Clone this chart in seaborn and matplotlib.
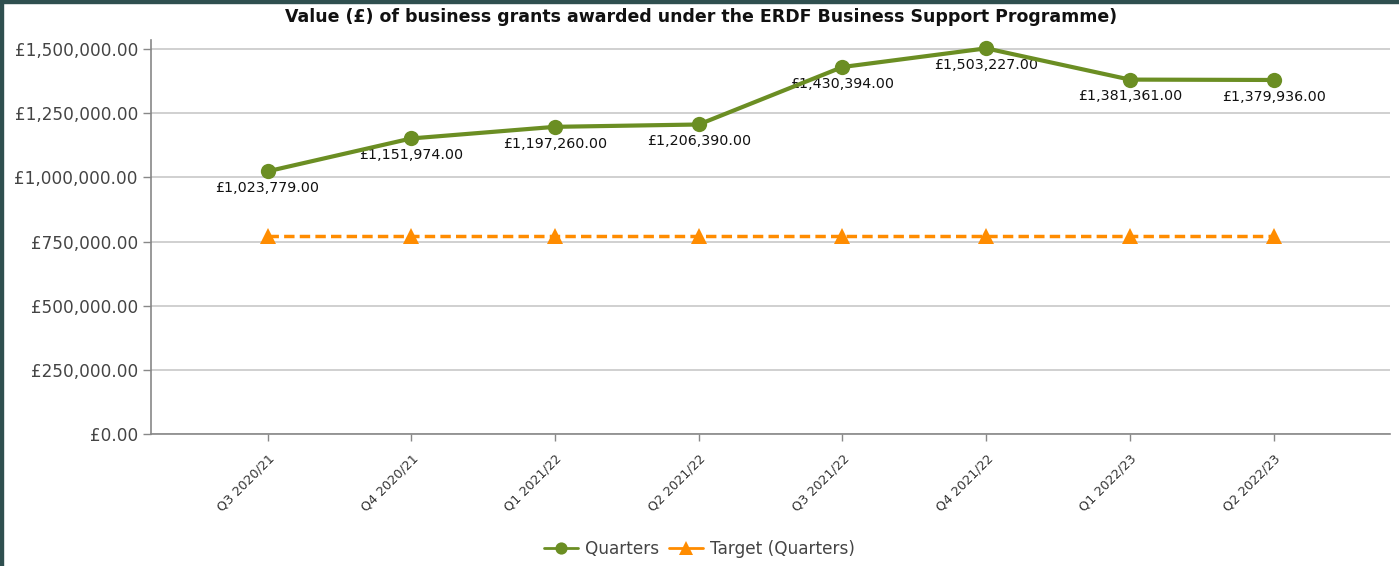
import matplotlib
matplotlib.use("Agg")
import matplotlib.pyplot as plt
import seaborn as sns
import pandas as pd
from matplotlib.patches import Rectangle
from matplotlib.ticker import FuncFormatter

quarters = ["Q3 2020/21", "Q4 2020/21", "Q1 2021/22", "Q2 2021/22",
            "Q3 2021/22", "Q4 2021/22", "Q1 2022/23", "Q2 2022/23"]
values = [1023779, 1151974, 1197260, 1206390, 1430394, 1503227, 1381361, 1379936]
target = [771000] * 8
yticks = [0, 250000, 500000, 750000, 1000000, 1250000, 1500000]

sns.set_theme(style="white")
plt.rcParams['font.family'] = ['DejaVu Sans']

df = pd.DataFrame({"x": range(len(quarters)), "Quarters": values, "Target (Quarters)": target})

fig = plt.figure(figsize=(13.99, 5.66), dpi=100)
ax = fig.add_axes([0.108, 0.2332, 0.8856, 0.6958])

green = "#6b8e23"
orange = "#ff8c00"

for y in yticks:
    ax.axhline(y, color="#c8c8c8", lw=1.2, zorder=0)

sns.lineplot(data=df, x="x", y="Target (Quarters)", ax=ax, color=orange, lw=2.5,
             linestyle=(0, (3, 1.5)), marker="^", markersize=12, markeredgewidth=0,
             label="Target (Quarters)", zorder=3)
sns.lineplot(data=df, x="x", y="Quarters", ax=ax, color=green, lw=3,
             marker="o", markersize=11, markeredgewidth=0, label="Quarters", zorder=4)

for i, v in enumerate(values):
    ax.annotate(f"£{v:,.2f}", (i, v), xytext=(0, -7), textcoords="offset points",
                ha="center", va="top", fontsize=10.3, color="#111111", zorder=2)

ax.set_xlim(-0.81, 7.81)
ax.set_ylim(0, 1535000)
ax.set_yticks(yticks)
ax.yaxis.set_major_formatter(FuncFormatter(lambda v, p: f"£{v:,.2f}"))
ax.set_xticks(range(len(quarters)))
ax.set_xticklabels(quarters, rotation=45, ha="right", rotation_mode="anchor",
                   fontsize=9.2, color="#333333")
ax.tick_params(axis="y", labelsize=12.2, colors="#555555", length=6, width=1, color="#888888",
               direction="out", left=True)
ax.tick_params(axis="x", length=5, width=1, color="#888888", direction="out", bottom=True, pad=8)
for l in ax.get_yticklabels():
    l.set_color("#444444")
ax.set_xlabel("")
ax.set_ylabel("")
for s in ["top", "right"]:
    ax.spines[s].set_visible(False)
for s in ["left", "bottom"]:
    ax.spines[s].set_color("#888888")
    ax.spines[s].set_linewidth(1.2)

fig.text(0.501, 1 - 17 / 566,
         "Value (£) of business grants awarded under the ERDF Business Support Programme)",
         fontsize=12.5, fontweight="bold", color="#111111", ha="center", va="center")

handles, labels = ax.get_legend_handles_labels()
order = [labels.index("Quarters"), labels.index("Target (Quarters)")]
leg = ax.legend([handles[i] for i in order], [labels[i] for i in order],
                loc="lower center", bbox_to_anchor=(0.5, -0.012), bbox_transform=fig.transFigure,
                ncol=2, frameon=False, fontsize=12.2, handlelength=2, handletextpad=0.4,
                columnspacing=0.6, labelcolor="#444444", markerscale=0.8)
for ln in leg.get_lines():
    ln.set_linewidth(2)
    ln.set_linestyle("-")

# dark border on left and top
fig.patches.append(Rectangle((0, 0), 3 / 1399, 1, transform=fig.transFigure,
                             color="#2f4f4f", zorder=10))
fig.patches.append(Rectangle((0, 1 - 3 / 566), 1, 3 / 566, transform=fig.transFigure,
                             color="#2f4f4f", zorder=10))

fig.savefig("out.png", dpi=100)
